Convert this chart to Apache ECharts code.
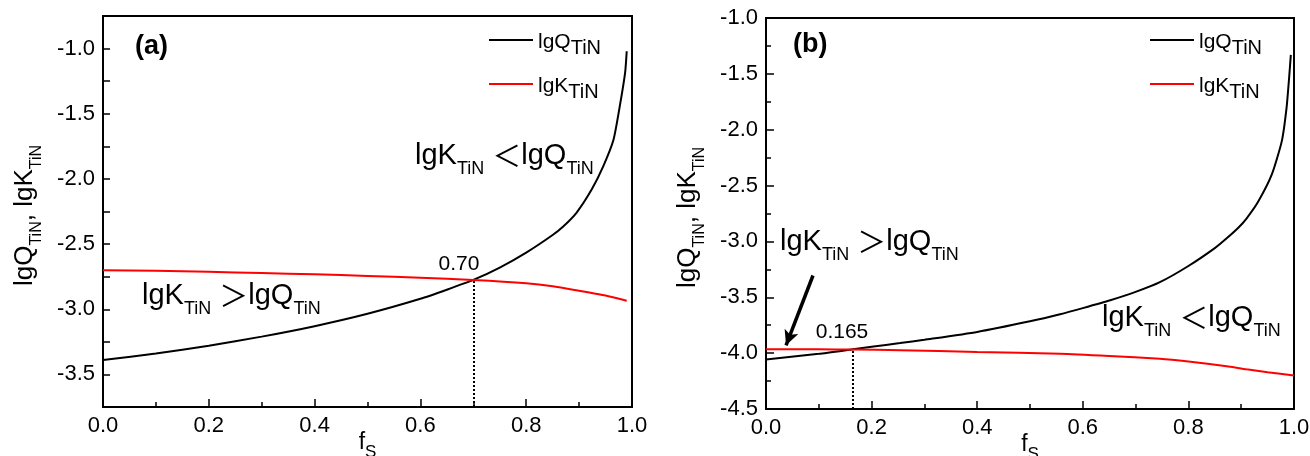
<!DOCTYPE html>
<html>
<head>
<meta charset="UTF-8">
<title>lgQ / lgK (TiN) vs fs</title>
<script src="https://cdn.jsdelivr.net/npm/echarts@6/dist/echarts.min.js"></script>
<style>
    html, body { margin: 0; padding: 0; background: #fff; }
    #chart { width: 1310px; height: 456px; }
</style>
</head>
<body>
<div id="chart"></div>
<script>
// ---- panel (a) ----
var fsQA = [0, 0.1, 0.2, 0.3, 0.4, 0.5, 0.6, 0.65, 0.7, 0.75, 0.8, 0.85, 0.87, 0.895, 0.924, 0.946, 0.965, 0.977, 0.987, 0.99];
var lgQA = [-3.39, -3.34, -3.28, -3.21, -3.13, -3.035, -2.92, -2.85, -2.775, -2.68, -2.565, -2.43, -2.365, -2.26, -2.08, -1.90, -1.70, -1.44, -1.185, -1.02];
var fsKA = [0, 0.1, 0.2, 0.3, 0.4, 0.5, 0.6, 0.7, 0.8, 0.85, 0.9, 0.95, 0.99];
var lgKA = [-2.70, -2.705, -2.713, -2.722, -2.732, -2.744, -2.758, -2.775, -2.80, -2.823, -2.858, -2.895, -2.935];
var crossA = [0.70, -2.775];

// ---- panel (b) ----
var fsQB = [0, 0.1, 0.165, 0.2, 0.254, 0.3, 0.4, 0.5, 0.557, 0.6, 0.652, 0.7, 0.746, 0.8, 0.85, 0.8725, 0.895, 0.91, 0.932, 0.958, 0.977, 0.986, 0.991, 0.994];
var lgQB = [-4.056, -4.006, -3.965, -3.943, -3.91, -3.88, -3.81, -3.715, -3.652, -3.597, -3.527, -3.452, -3.365, -3.22, -3.06, -2.972, -2.875, -2.795, -2.645, -2.40, -2.10, -1.80, -1.52, -1.33];
var fsKB = [0, 0.1, 0.165, 0.254, 0.4, 0.557, 0.65, 0.746, 0.8, 0.8725, 0.91, 0.95, 1.0];
var lgKB = [-3.965, -3.966, -3.968, -3.973, -3.99, -4.005, -4.025, -4.05, -4.075, -4.117, -4.145, -4.17, -4.2];
var crossB = [0.165, -3.965];
var arrowTailB = [0.089, -3.305];
var arrowTipB = [0.038, -3.93];

var FONT = 'Liberation Sans, Arial, sans-serif';
var CJK = 'Noto Sans CJK SC';

function zip(xs, ys) {
    return xs.map(function(x, i) { return [x, ys[i]]; });
}

function oneDecimal(v) { return v.toFixed(1); }

// only label the multiples of 0.5 (ticks every 0.25)
function halfStepLabel(v) {
    var k = Math.round(v * 2);
    return Math.abs(v * 2 - k) < 1e-6 ? v.toFixed(1) : '';
}

var legendRich = {
    m: { fontFamily: FONT, fontSize: 21, color: '#000', lineHeight: 28, padding: [4, 0, 0, 0] },
    s: { fontFamily: FONT, fontSize: 20, color: '#000', lineHeight: 28, padding: [16, 0, 0, 0] }
};
var yNameRich = {
    m: { fontFamily: FONT, fontSize: 26, color: '#000', lineHeight: 28 },
    s: { fontFamily: FONT, fontSize: 16, color: '#000', lineHeight: 28, padding: [24, 0, 0, 0] }
};
var xNameRich = {
    m: { fontFamily: FONT, fontSize: 23, color: '#000', lineHeight: 28 },
    s: { fontFamily: FONT, fontSize: 17, color: '#000', lineHeight: 28, padding: [18, 0, 0, 0] }
};
var annRich = {
    m: { fontFamily: FONT, fontSize: 29, fill: '#000', color: '#000', lineHeight: 36 },
    s: { fontFamily: FONT, fontSize: 18, fill: '#000', color: '#000', lineHeight: 36, padding: [26, 0, 0, 0] },
    r: { fontFamily: CJK, fontSize: 29, fill: '#000', color: '#000', lineHeight: 36 }
};

function xAxisOpt(grid) {
    return {
        gridIndex: grid,
        type: 'value',
        min: 0, max: 1, interval: 0.2,
        name: '{m|f}{s|S}',
        nameLocation: 'middle',
        nameGap: 22,
        nameMoveOverlap: false,
        nameTextStyle: { rich: xNameRich },
        axisLine: { lineStyle: { color: '#000', width: 2 } },
        axisTick: { inside: true, length: 8, lineStyle: { color: '#000', width: 1.5 } },
        minorTick: { show: true, splitNumber: 2, length: 5, lineStyle: { color: '#000', width: 1.5 } },
        axisLabel: { color: '#000', fontFamily: FONT, fontSize: 22, margin: 8, formatter: oneDecimal },
        splitLine: { show: false }
    };
}

function yAxisOpt(grid, extra) {
    var o = {
        gridIndex: grid,
        type: 'value',
        name: '{m|lgQ}{s|TiN}{m|, lgK}{s|TiN}',
        nameLocation: 'middle',
        nameRotate: 90,
        nameGap: 64,
        nameMoveOverlap: false,
        nameTextStyle: { rich: yNameRich, padding: [0, 8, 0, 0] },
        axisLine: { lineStyle: { color: '#000', width: 2 } },
        axisTick: { inside: true, length: 8, lineStyle: { color: '#000', width: 1.5 } },
        axisLabel: { color: '#000', fontFamily: FONT, fontSize: 22, margin: 8 },
        splitLine: { show: false }
    };
    return echarts.util.merge(o, extra, true);
}

function curve(name, color, xi, data, markLine) {
    var s = {
        name: name,
        type: 'line',
        xAxisIndex: xi,
        yAxisIndex: xi,
        data: data,
        symbol: 'none',
        showSymbol: false,
        smooth: 0.2,
        lineStyle: { color: color, width: 2 },
        itemStyle: { color: color },
        silent: true
    };
    if (markLine) s.markLine = markLine;
    return s;
}

function dropLine(pt, yMin) {
    return [
        { coord: [pt[0], yMin], symbol: 'none', lineStyle: { color: '#000', width: 2, type: [2, 2] } },
        { coord: [pt[0], pt[1]], symbol: 'none' }
    ];
}

function legendOpt(left) {
    return {
        left: left, top: 22,
        padding: 0,
        orient: 'vertical',
        itemWidth: 44, itemHeight: 2, itemGap: 8,
        selectedMode: false,
        data: [{ name: 'lgQ', icon: 'rect' }, { name: 'lgK', icon: 'rect' }],
        formatter: function(n) { return '{m|' + n + '}{s|TiN}'; },
        textStyle: { rich: legendRich }
    };
}

function annText(x, y, sign) {
    return {
        type: 'text', x: x, y: y, silent: true,
        style: {
            text: '{m|lgK}{s|TiN}{m| }{r|' + sign + '}{m|lgQ}{s|TiN}',
            rich: annRich,
            fill: '#000',
            align: 'left', textAlign: 'left',
            verticalAlign: 'middle', textVerticalAlign: 'middle'
        }
    };
}

function plainText(x, y, text, font, align) {
    return {
        type: 'text', x: x, y: y, silent: true,
        style: {
            text: text, font: font, fill: '#000',
            align: align, textAlign: align,
            verticalAlign: 'middle', textVerticalAlign: 'middle'
        }
    };
}

var chart = echarts.init(document.getElementById('chart'), null, { renderer: 'canvas' });

var option = {
    animation: false,
    backgroundColor: '#fff',
    textStyle: { fontFamily: FONT },
    grid: [
        { left: 103, top: 16, width: 529, height: 391, show: true, borderColor: '#000', borderWidth: 2, outerBoundsMode: 'none', containLabel: false },
        { left: 766, top: 18, width: 528, height: 391, show: true, borderColor: '#000', borderWidth: 2, outerBoundsMode: 'none', containLabel: false }
    ],
    legend: [legendOpt(489), legendOpt(1150)],
    xAxis: [xAxisOpt(0), xAxisOpt(1)],
    yAxis: [
        yAxisOpt(0, { min: -3.75, max: -0.75, interval: 0.25, axisTick: { length: 7 }, axisLabel: { formatter: halfStepLabel } }),
        yAxisOpt(1, {
            min: -4.5, max: -1.0, interval: 0.5,
            minorTick: { show: true, splitNumber: 2, length: 5, lineStyle: { color: '#000', width: 1.5 } },
            axisLabel: { formatter: oneDecimal }
        })
    ],
    series: [
        curve('lgQ', '#000', 0, zip(fsQA, lgQA)),
        curve('lgK', '#ff0000', 0, zip(fsKA, lgKA), {
            silent: true, symbol: 'none', label: { show: false },
            data: [dropLine(crossA, -3.75)]
        }),
        curve('lgQ', '#000', 1, zip(fsQB, lgQB), {
            silent: true, label: { show: false },
            data: [[
                { coord: arrowTailB, symbol: 'none', lineStyle: { color: '#000', width: 3.5, type: 'solid' } },
                { coord: arrowTipB, symbol: 'arrow', symbolSize: [11, 15] }
            ]]
        }),
        curve('lgK', '#ff0000', 1, zip(fsKB, lgKB), {
            silent: true, symbol: 'none', label: { show: false },
            data: [dropLine(crossB, -4.5)]
        })
    ],
    graphic: [
        plainText(135, 47, '(a)', 'bold 27px ' + FONT, 'left'),
        plainText(793, 45, '(b)', 'bold 27px ' + FONT, 'left'),
        plainText(459, 264, '0.70', '21px ' + FONT, 'center'),
        plainText(842, 332, '0.165', '21px ' + FONT, 'center'),
        annText(142, 296, '＞'),
        annText(415, 156, '＜'),
        annText(780, 242, '＞'),
        annText(1102, 318, '＜')
    ]
};

chart.setOption(option);
</script>
</body>
</html>
